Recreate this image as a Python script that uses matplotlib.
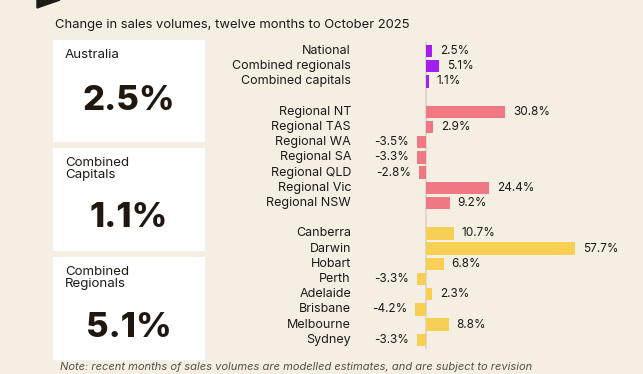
import matplotlib.pyplot as plt
from matplotlib.patches import Rectangle, Polygon

plt.rcParams['font.family'] = ['Inter', 'DejaVu Sans']

# data
categories = ['National', 'Combined regionals', 'Combined capitals', '',
              'Regional NT', 'Regional TAS', 'Regional WA', 'Regional SA',
              'Regional QLD', 'Regional Vic', 'Regional NSW', '',
              'Canberra', 'Darwin', 'Hobart', 'Perth', 'Adelaide',
              'Brisbane', 'Melbourne', 'Sydney']
values = [2.5, 5.1, 1.1, None,
          30.8, 2.9, -3.5, -3.3, -2.8, 24.4, 9.2, None,
          10.7, 57.7, 6.8, -3.3, 2.3, -4.2, 8.8, -3.3]
groups = ['nat', 'nat', 'nat', None,
          'reg', 'reg', 'reg', 'reg', 'reg', 'reg', 'reg', None,
          'cap', 'cap', 'cap', 'cap', 'cap', 'cap', 'cap', 'cap']
cards = [('Australia', '2.5%'), ('Combined\nCapitals', '1.1%'), ('Combined\nRegionals', '5.1%')]

colors = {'nat': '#a21ff0', 'reg': '#ef7883', 'cap': '#f7cf55'}
bg = '#f5eee3'
ink = '#1e1a16'

W, H = 643, 374
fig = plt.figure(figsize=(W / 100, H / 100), dpi=100, facecolor=bg)

def fx(px):
    return px / W

def fy(py):
    return 1 - py / H

# top-left wedge
fig.patches.append(Polygon([(fx(37), fy(0)), (fx(60), fy(0)), (fx(37), fy(8))],
                           closed=True, transform=fig.transFigure, color=ink))

fig.text(fx(55), fy(25), 'Change in sales volumes, twelve months to October 2025',
         fontsize=9.4, color=ink, va='center', ha='left')

# summary cards (box top, box bottom, number centre)
boxes = [(40, 141, 101), (148, 250, 218), (257, 359, 328)]
for (top, bot, mid), (lab, val) in zip(boxes, cards):
    fig.patches.append(Rectangle((fx(53), fy(bot)), fx(204) - fx(53), fy(top) - fy(bot),
                                 transform=fig.transFigure, color='white', zorder=0))
    fig.text(fx(65), fy(top + 9), lab, fontsize=9.6, color=ink, va='top', ha='left',
             linespacing=1.05)
    fig.text(fx(129), fy(mid), val, fontsize=25, fontweight='heavy', color='#201810',
             va='center', ha='center')

# bar chart: full-figure axes mapped to pixel layout
ax = fig.add_axes([0, 0, 1, 1])
ax.set_facecolor('none')
scale = 2.58
zero_px = 426
pitch = 15.2
row0 = 51
ax.set_xlim(-zero_px / scale, (W - zero_px) / scale)
ax.set_ylim((H - row0) / pitch, -row0 / pitch)
ax.axis('off')

for i, (c, v, g) in enumerate(zip(categories, values, groups)):
    if v is None:
        continue
    ax.barh(i, v, height=0.82, color=colors[g], zorder=2)
    ax.text(-(zero_px - 351) / scale, i, c, ha='right', va='center', fontsize=9, color=ink)
    off = 8 / scale
    if v >= 0:
        ax.text(v + off, i, f'{v}%', ha='left', va='center', fontsize=8.5, color=ink)
    else:
        ax.text(v - off, i, f'{v}%', ha='right', va='center', fontsize=8.5, color=ink)

ax.plot([0, 0], [-0.55, len(categories) - 0.45], color='#ddd7cf', lw=1.5, zorder=1)

fig.text(fx(60), fy(367), 'Note: recent months of sales volumes are modelled estimates, and are subject to revision',
         fontsize=8, style='italic', color='#555049', va='center', ha='left')

fig.savefig('out.png', dpi=100, facecolor=bg)
